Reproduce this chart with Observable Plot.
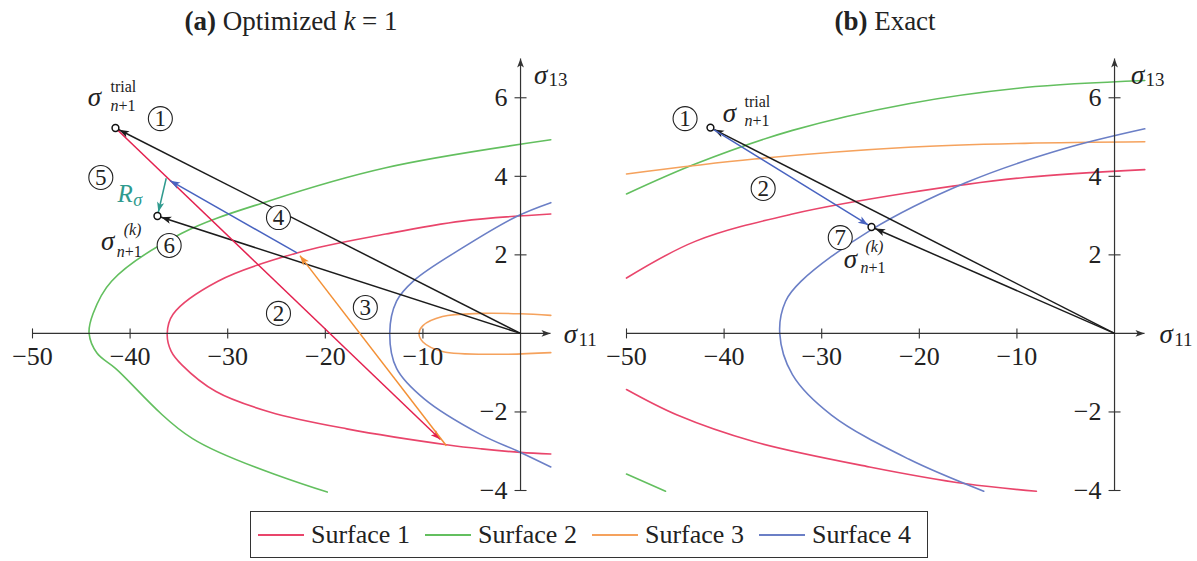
<!DOCTYPE html>
<html><head><meta charset="utf-8">
<script src="https://cdn.jsdelivr.net/npm/d3@7"></script>
<script src="https://cdn.jsdelivr.net/npm/@observablehq/plot@0.6"></script>
<style>
body{margin:0;background:#fff;}
#wrap{position:relative;width:1197px;height:561px;background:#fff;overflow:hidden;font-family:"Liberation Serif",serif;color:#222;}
.ttl{position:absolute;top:7px;width:582px;text-align:center;font-size:27px;line-height:28px;}
.pl{position:absolute;top:0;}
#legend{position:absolute;left:250px;top:511px;width:676px;height:45px;border:1.3px solid #333;display:flex;align-items:center;font-size:26px;white-space:nowrap;}
.sw{display:inline-block;width:46px;height:2px;margin-left:7px;margin-right:7px;}
.lt{display:inline-block;width:107px;}
</style></head><body>
<div id="wrap">
 <div id="pa" class="pl" style="left:0"></div>
 <div id="pb" class="pl" style="left:594px"></div>
 <div class="ttl" style="left:0"><b>(a)</b> Optimized <i>k</i> = 1</div>
 <div class="ttl" style="left:594px"><b>(b)</b> Exact</div>
 <div id="legend"></div>
</div>
<script>
// ---------- data ----------
const surfaces = ["Surface 1", "Surface 2", "Surface 3", "Surface 4"];
const surfaceColors = ["#e9456b", "#63bf5f", "#f5a25d", "#6b7fc6"];

const xTicks = [-50, -40, -30, -20, -10];
const xTickLabels = ["−50", "−40", "−30", "−20", "−10"];
const yTicks = [-4, -2, 2, 4, 6];
const yTickLabels = ["−4", "−2", "2", "4", "6"];
const xExtent = [-50, 3.07];
const yExtent = [-4, 7];

// (a) Optimized k = 1 : surfaces [sigma11, sigma13]
const a_s1 = [[3.1,-3.07],[0,-3.03],[-4,-2.94],[-7.4,-2.84],[-17.8,-2.43],[-25.7,-2.0],[-31.2,-1.48],[-34.7,-0.8],[-35.8,-0.45],[-36.2,0],[-35.6,0.49],[-31.0,1.33],[-22.9,2.05],[-13.8,2.53],[-6.0,2.86],[3.1,3.04]];
const a_s2 = [[-19.8,-4.04],[-33.6,-2.68],[-41.5,-0.89],[-43.4,-0.5],[-44.2,0],[-43.8,0.5],[-41.9,1.33],[-34.7,2.55],[-25.7,3.38],[-13.8,4.22],[3.1,4.93]];
const a_s3 = [[3.1,0.46],[0,0.5],[-4,0.51],[-8,0.43],[-10,0.2],[-10.4,0],[-10,-0.22],[-8,-0.46],[-2,-0.53],[3.1,-0.49]];
const a_s4 = [[3.1,-3.4],[0,-3.03],[-4.1,-2.57],[-9.9,-1.66],[-12.7,-0.89],[-13.4,0],[-12.7,0.82],[-10.9,1.35],[-6,2.17],[-0.3,2.99],[3.1,3.33]];

// (b) Exact
const b_s1_up = [[-50,1.41],[-42.9,2.35],[-33,3.04],[-21.1,3.58],[-9.2,3.97],[3.1,4.17]];
const b_s1_lo = [[-50,-1.43],[-44.8,-2.08],[-36.9,-2.76],[-25.1,-3.4],[-15.2,-3.83],[-8,-4.02]];
const b_s2_up = [[-50,3.55],[-42.9,4.32],[-33,5.17],[-21.1,5.85],[-9.2,6.26],[3.1,6.44]];
const b_s2_lo = [[-50,-3.58],[-46,-4.02]];
const b_s3 = [[-50,4.06],[-36.9,4.44],[-21.1,4.74],[-9.2,4.84],[3.1,4.88]];
const b_s4 = [[-13.4,-4.02],[-21.1,-3.2],[-29,-2.08],[-33,-1.05],[-34.3,0],[-33.7,0.82],[-32.1,1.33],[-25.1,2.61],[-15.2,3.84],[-5.2,4.7],[3.1,5.21]];

// stress points
const aPoints = [{x:-41.5, y:5.23}, {x:-37.2, y:2.99}];
const bPoints = [{x:-41.4, y:5.24}, {x:-24.9, y:2.71}];

// arrows
const aArrows = [
  {c:"black", x1:0, y1:0, x2:-41.5, y2:5.23, toPoint:true},
  {c:"black", x1:0, y1:0, x2:-37.2, y2:2.99, toPoint:true},
  {c:"red", x1:-41.5, y1:5.23, x2:-8.2, y2:-2.7},
  {c:"orange", x1:-7.6, y1:-2.86, x2:-22.6, y2:1.98},
  {c:"blue", x1:-22.9, y1:2.05, x2:-35.9, y2:3.89},
  {c:"teal", x1:-36.3, y1:3.95, x2:-37.2, y2:2.99, toPoint:true}
];
const bArrows = [
  {c:"black", x1:0, y1:0, x2:-41.4, y2:5.24, toPoint:true},
  {c:"black", x1:0, y1:0, x2:-24.9, y2:2.71, toPoint:true},
  {c:"blue", x1:-41.4, y1:5.24, x2:-24.9, y2:2.71, toPoint:true}
];

// circled step numbers
const aCircled = [{n:"1",x:-36.9,y:5.47},{n:"5",x:-43.0,y:3.97},{n:"4",x:-24.8,y:2.95},{n:"6",x:-36.0,y:2.24},{n:"2",x:-24.8,y:0.51},{n:"3",x:-15.9,y:0.66}];
const bCircled = [{n:"1",x:-44.0,y:5.47},{n:"2",x:-36.0,y:3.69},{n:"7",x:-28.1,y:2.44}];

// sigma labels
const aSigmaLabels = [{x:-43.65, y:6.01, sup:"trial"}, {x:-42.3, y:2.34, sup:"(k)"}];
const bSigmaLabels = [{x:-39.45, y:5.6, sup:"trial"}, {x:-27.05, y:1.88, sup:"(k)"}];
const aRsigma = [{x:-40.5, y:3.54}];
const aAxisLabels = {s13:{x:2.05, y:6.57}, s11:{x:5.12, y:-0.03}};
const bAxisLabels = {s13:{x:2.36, y:6.57}, s11:{x:5.3, y:-0.03}};

// ---------- styling ----------
const FONT = "Liberation Serif";
const arrowColors = {black:"#1c1c1c", red:"#e3204f", orange:"#f39035", blue:"#4863c0", teal:"#2f9a8e"};
const axisColor = "#333";
const aSigmaOffsets = [[16,-11,16,8],[16,-12,9,10]];
const bSigmaOffsets = [[15,-12,15,7],[15,-13,10,8]];

// ---------- helpers ----------
const SVGNS = "http://www.w3.org/2000/svg";
function headed(color, len = 10, hw = 3.6, shortenFn = () => 0) {
  return function(index, scales, values, dimensions, context, next) {
    const X1 = values.x1, Y1 = values.y1, X2 = values.x2, Y2 = values.y2;
    const g = next(index, scales, values, dimensions, context);
    for (const i of index) {
      const a = Math.atan2(Y2[i] - Y1[i], X2[i] - X1[i]);
      const s = shortenFn(i);
      const tx = X2[i] - s * Math.cos(a), ty = Y2[i] - s * Math.sin(a);
      const bx = tx - len * Math.cos(a), by = ty - len * Math.sin(a);
      const px = -Math.sin(a) * hw, py = Math.cos(a) * hw;
      const mx = tx - 0.75 * len * Math.cos(a), my = ty - 0.75 * len * Math.sin(a);
      const p = document.createElementNS(SVGNS, "path");
      p.setAttribute("d", `M${tx},${ty}L${bx + px},${by + py}L${mx},${my}L${bx - px},${by - py}Z`);
      p.setAttribute("fill", color);
      p.setAttribute("stroke", "none");
      g.appendChild(p);
    }
    return g;
  };
}
const vtick = {draw(ctx, size) { const r = Math.sqrt(size / Math.PI); ctx.moveTo(0, -r); ctx.lineTo(0, r); }};
const htick = {draw(ctx, size) { const r = Math.sqrt(size / Math.PI); ctx.moveTo(-r, 0); ctx.lineTo(r, 0); }};

function curveRows(list) {
  return list.flatMap(([s, seg, pts]) => pts.map(([x, y]) => ({s, seg, x, y})));
}

function sigmaMarks(lbls, offs) {
  return lbls.flatMap((l, i) => {
    const [sdx, sdy, bdx, bdy] = offs[i];
    return [
      Plot.text([l], {x:"x", y:"y", text:() => "σ", fontSize:27, fontStyle:"italic"}),
      Plot.text([l], {x:"x", y:"y", text:"sup", fontSize:16, textAnchor:"start", dx:sdx, dy:sdy, fontStyle: l.sup === "trial" ? "normal" : "italic"}),
      Plot.text([l], {x:"x", y:"y", text:() => "n", fontSize:16, textAnchor:"start", dx:bdx, dy:bdy, fontStyle:"italic"}),
      Plot.text([l], {x:"x", y:"y", text:() => "+1", fontSize:16, textAnchor:"start", dx:bdx + 8, dy:bdy})
    ];
  });
}

function axisLabelMarks(al) {
  return [
    Plot.text([al.s13], {x:"x", y:"y", text:() => "σ", fontSize:27, fontStyle:"italic"}),
    Plot.text([al.s13], {x:"x", y:"y", text:() => "13", fontSize:19, textAnchor:"start", dx:8, dy:5}),
    Plot.text([al.s11], {x:"x", y:"y", text:() => "σ", fontSize:27, fontStyle:"italic"}),
    Plot.text([al.s11], {x:"x", y:"y", text:() => "11", fontSize:19, textAnchor:"start", dx:8, dy:5})
  ];
}

function panel(cfg) {
  const rows = curveRows(cfg.curves);
  const colorKeys = Object.keys(arrowColors);
  const arrowMarks = colorKeys.map(k => {
    const data = cfg.arrows.filter(d => d.c === k);
    if (!data.length) return null;
    return Plot.link(data, {
      x1:"x1", y1:"y1", x2:"x2", y2:"y2",
      stroke: arrowColors[k], strokeWidth: 1.5,
      render: headed(arrowColors[k], 10, 3.6, i => data[i].toPoint ? 4 : 0)
    });
  }).filter(Boolean);
  return Plot.plot({
    width: 598, height: 510,
    marginLeft: 32, marginRight: 48, marginTop: 58, marginBottom: 20,
    x: {domain: xExtent, axis: null},
    y: {domain: yExtent, axis: null},
    color: {domain: surfaces, range: surfaceColors},
    style: {background: "transparent", overflow: "visible", fontFamily: FONT, color: "#222"},
    marks: [
      Plot.line(rows, {x:"x", y:"y", z:"seg", stroke:"s", strokeWidth:1.6, curve:"catmull-rom"}),
      // axes
      Plot.link([{x1:xExtent[0], y1:0, x2:xExtent[1], y2:0}], {x1:"x1", y1:"y1", x2:"x2", y2:"y2", stroke:axisColor, strokeWidth:1.2, render: headed(axisColor, 9, 3.4)}),
      Plot.link([{x1:0, y1:yExtent[0], x2:0, y2:yExtent[1]}], {x1:"x1", y1:"y1", x2:"x2", y2:"y2", stroke:axisColor, strokeWidth:1.2, render: headed(axisColor, 9, 3.4)}),
      Plot.dot(xTicks, {x:d => d, y:() => 0, symbol:vtick, r:5, stroke:axisColor, fill:"none", strokeWidth:1.1}),
      Plot.dot(yTicks, {x:() => 0, y:d => d, symbol:htick, r:6, stroke:axisColor, fill:"none", strokeWidth:1.1}),
      Plot.text(xTicks, {x:d => d, y:() => 0, text:(d, i) => xTickLabels[i], fontSize:26, dy:23}),
      Plot.text(yTicks, {x:() => 0, y:d => d, text:(d, i) => yTickLabels[i], fontSize:26, textAnchor:"end", dx:-13}),
      ...arrowMarks,
      Plot.dot(cfg.points, {x:"x", y:"y", r:3.4, fill:"white", stroke:"#111", strokeWidth:1.5}),
      Plot.dot(cfg.circled, {x:"x", y:"y", r:12, fill:"white", stroke:"#222", strokeWidth:1.1}),
      Plot.text(cfg.circled, {x:"x", y:"y", text:"n", fontSize:23}),
      ...sigmaMarks(cfg.sigmas, cfg.sigmaOffsets),
      ...(cfg.rsig ? [
        Plot.text(cfg.rsig, {x:"x", y:"y", text:() => "R", fontSize:25, fontStyle:"italic", fill:arrowColors.teal}),
        Plot.text(cfg.rsig, {x:"x", y:"y", text:() => "σ", fontSize:18, fontStyle:"italic", fill:arrowColors.teal, textAnchor:"start", dx:8, dy:6})
      ] : []),
      ...axisLabelMarks(cfg.axisLabels)
    ]
  });
}

document.getElementById("pa").append(panel({
  curves: [["Surface 1","a1",a_s1],["Surface 2","a2",a_s2],["Surface 3","a3",a_s3],["Surface 4","a4",a_s4]],
  arrows: aArrows, points: aPoints, circled: aCircled,
  sigmas: aSigmaLabels, sigmaOffsets: aSigmaOffsets, rsig: aRsigma, axisLabels: aAxisLabels
}));
document.getElementById("pb").append(panel({
  curves: [["Surface 1","b1u",b_s1_up],["Surface 1","b1l",b_s1_lo],["Surface 2","b2u",b_s2_up],["Surface 2","b2l",b_s2_lo],["Surface 3","b3",b_s3],["Surface 4","b4",b_s4]],
  arrows: bArrows, points: bPoints, circled: bCircled,
  sigmas: bSigmaLabels, sigmaOffsets: bSigmaOffsets, rsig: null, axisLabels: bAxisLabels
}));

// legend
const leg = document.getElementById("legend");
surfaces.forEach((s, i) => {
  const sw = document.createElement("span");
  sw.className = "sw"; sw.style.background = surfaceColors[i];
  const t = document.createElement("span");
  t.className = "lt";
  t.textContent = s;
  leg.append(sw, t);
});
</script>
</body></html>
